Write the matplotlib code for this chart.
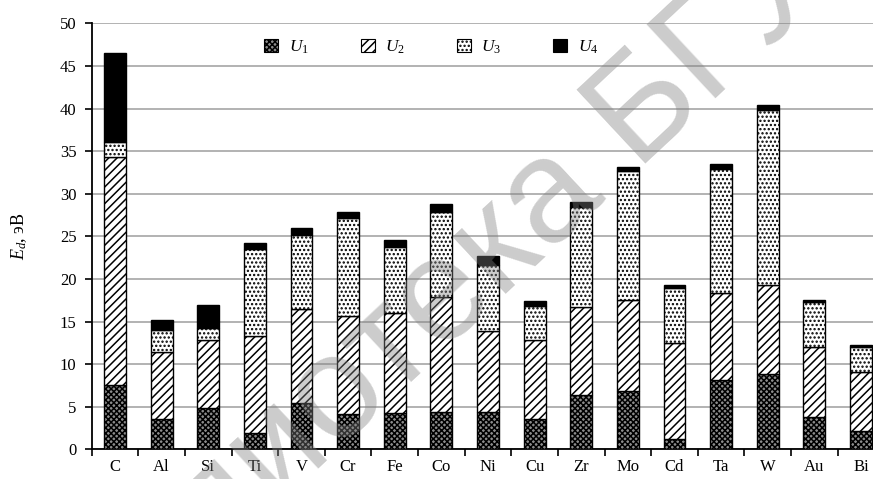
import numpy as np
import matplotlib
matplotlib.use("Agg")
import matplotlib.pyplot as plt
from matplotlib.patches import Patch

# Elements and the four energy contributions (eV) stacked per element
elements = ["C", "Al", "Si", "Ti", "V", "Cr", "Fe", "Co", "Ni", "Cu",
            "Zr", "Mo", "Cd", "Ta", "W", "Au", "Bi"]
u1 = [7.5, 3.5, 4.8, 1.9, 5.4, 4.1, 4.3, 4.4, 4.4, 3.6,
      6.4, 6.85, 1.2, 8.1, 8.8, 3.8, 2.2]
u2 = [26.8, 7.95, 8.0, 11.4, 11.05, 11.6, 11.65, 13.5, 9.5, 9.2,
      10.35, 10.65, 11.25, 10.3, 10.55, 8.2, 6.9]
u3 = [1.8, 2.55, 1.5, 10.2, 8.7, 11.45, 7.85, 10.0, 7.7, 4.05,
      11.65, 15.2, 6.45, 14.5, 20.45, 5.3, 2.9]
u4 = [10.4, 1.2, 2.6, 0.75, 0.85, 0.7, 0.8, 0.85, 1.1, 0.6,
      0.65, 0.5, 0.45, 0.6, 0.6, 0.2, 0.25]
series_labels = ["$U_1$", "$U_2$", "$U_3$", "$U_4$"]

plt.rcParams["font.family"] = ["Liberation Serif", "DejaVu Serif"]
plt.rcParams["mathtext.fontset"] = "custom"
plt.rcParams["mathtext.rm"] = "Liberation Serif"
plt.rcParams["mathtext.it"] = "Liberation Serif:italic"
plt.rcParams["hatch.linewidth"] = 1.1

styles = [
    dict(facecolor="#8c8c8c", hatch="xxxxxx"),
    dict(facecolor="white", hatch="////"),
    dict(facecolor="white", hatch="...."),
    dict(facecolor="black", hatch=None),
]

fig = plt.figure(figsize=(8.73, 4.79), dpi=100)
ax = fig.add_axes([0.105, 0.062, 1.013 - 0.105, 0.951 - 0.062])

x = np.arange(len(elements))
bottom = np.zeros(len(elements))
handles = []
for vals, st, lab in zip([u1, u2, u3, u4], styles, series_labels):
    ax.bar(x, vals, width=0.47, bottom=bottom, edgecolor="black",
           linewidth=1.0, zorder=3, **st)
    bottom += np.array(vals)
    handles.append(Patch(edgecolor="black", linewidth=0.8, label=lab, **st))

ax.set_xlim(-0.5, len(elements) - 0.5)
ax.set_ylim(0, 50)
ax.set_yticks(np.arange(0, 51, 5))
ax.yaxis.grid(True, color="#a6a6a6", linewidth=1.2, zorder=0)
ax.set_axisbelow(True)

ax.set_xticks(x)
ax.set_xticklabels(elements, fontsize=12)
ax.set_xticks(np.arange(-0.5, len(elements), 1), minor=True)
ax.tick_params(axis="x", which="major", length=0, pad=7)
ax.tick_params(axis="x", which="minor", length=5, width=1.2, direction="out")
ax.tick_params(axis="y", length=5, width=1.2, direction="out", labelsize=12, pad=6)

for side in ["top", "right"]:
    ax.spines[side].set_visible(False)
for side in ["left", "bottom"]:
    ax.spines[side].set_linewidth(1.3)

ax.set_ylabel("$E_d$, эВ", fontsize=13, labelpad=22)

fig.legend(handles=handles, loc="center", bbox_to_anchor=(0.494, 0.902),
           ncol=4, frameon=False, fontsize=12.5, handlelength=0.8,
           handleheight=0.8, columnspacing=3.0, handletextpad=0.6)

# library stamp across the page
fig.text(0.548, 0.44, "Библиотека БГУИР", fontsize=105,
         family=["Liberation Sans", "DejaVu Sans"], color="grey", alpha=0.4,
         rotation=43, ha="center", va="center", rotation_mode="anchor",
         zorder=10)

fig.savefig("out.png", dpi=100)
